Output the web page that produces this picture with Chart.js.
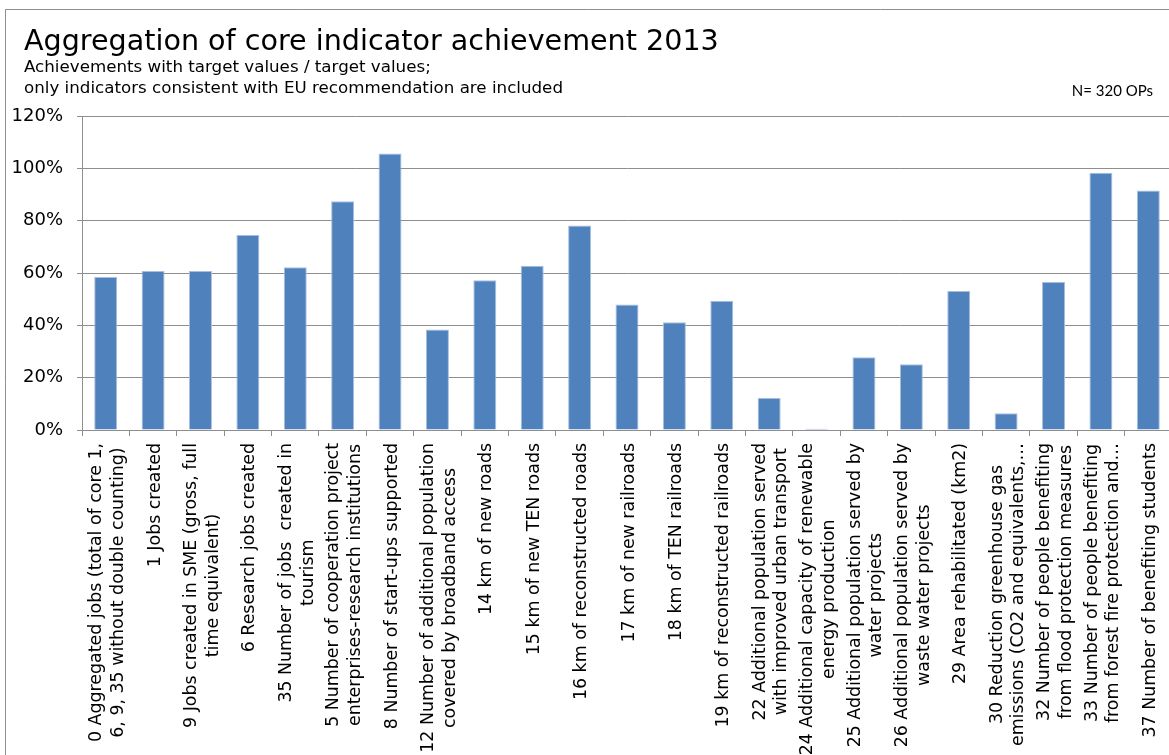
<!DOCTYPE html>
<html>
<head>
<meta charset="utf-8">
<title>Aggregation of core indicator achievement 2013</title>
<script src="https://cdn.jsdelivr.net/npm/chart.js@4"></script>
<style>
  html, body { margin: 0; padding: 0; background: #fff; overflow: hidden; }
  #wrap { position: relative; width: 1172px; height: 755px; }
</style>
</head>
<body>
<div id="wrap"><canvas id="myChart"></canvas></div>
<script>
// core indicators, each label split into the lines it is printed on
const categories = [
  ['0 Aggregated jobs (total of core 1,', '6, 9, 35 without double counting)'],
  ['1 Jobs created'],
  ['9 Jobs created in SME (gross, full', 'time equivalent)'],
  ['6 Research jobs created'],
  ['35 Number of jobs  created in', 'tourism'],
  ['5 Number of cooperation project', 'enterprises-research institutions'],
  ['8 Number of start-ups supported'],
  ['12 Number of additional population', 'covered by broadband access'],
  ['14 km of new roads'],
  ['15 km of new TEN roads'],
  ['16 km of reconstructed roads'],
  ['17 km of new railroads'],
  ['18 km of TEN railroads'],
  ['19 km of reconstructed railroads'],
  ['22 Additional population served', 'with improved urban transport'],
  ['24 Additional capacity of renewable', 'energy production'],
  ['25 Additional population served by', 'water projects'],
  ['26 Additional population served by', 'waste water projects'],
  ['29 Area rehabilitated (km2)'],
  ['30 Reduction greenhouse gas', 'emissions (CO2 and equivalents,\u2026'],
  ['32 Number of people benefiting', 'from flood protection measures'],
  ['33 Number of people benefiting', 'from forest fire protection and\u2026'],
  ['37 Number of benefiting students']
];

// achievement / target, in %
const achievement = [
  58.5, 60.8, 60.8, 74.5, 62.2, 87.4, 105.7, 38.4, 57.2, 62.8, 78.2, 48.0,
  41.2, 49.4, 12.2, 0.5, 27.8, 25.1, 53.1, 6.4, 56.6, 98.3, 91.5
];

const yMax = 120;
const yStep = 20;

const titleText = 'Aggregation of core indicator achievement 2013';
const subtitleLines = [
  'Achievements with target values / target values;',
  'only indicators consistent with EU recommendation are included'
];
const noteText = 'N= 320 OPs';

const axisGrey = '#8e8e8e';

// frame, headings and the rotated category labels
const decorations = {
  id: 'decorations',
  beforeDraw(chart) {
    const c = chart.ctx;
    c.save();
    c.fillStyle = '#fff';
    c.fillRect(0, 0, chart.width, chart.height);

    c.strokeStyle = axisGrey;
    c.lineWidth = 1;
    c.beginPath();
    c.moveTo(5.5, chart.height);
    c.lineTo(5.5, 9.5);
    c.lineTo(chart.width, 9.5);
    c.stroke();

    c.fillStyle = '#000';
    c.textAlign = 'left';
    c.textBaseline = 'alphabetic';
    c.font = '28.6px "DejaVu Sans"';
    c.fillText(titleText, 24, 50);
    c.font = '16.7px "DejaVu Sans"';
    c.fillText(subtitleLines[0], 24, 72);
    c.fillText(subtitleLines[1], 24, 93);

    c.textAlign = 'right';
    c.font = '15px Lato';
    c.fillText(noteText, 1153, 96);
    c.restore();
  },
  afterDraw(chart) {
    const c = chart.ctx;
    const x = chart.scales.x;
    const top = chart.chartArea.bottom + 13;
    c.save();
    c.font = '17.4px "DejaVu Sans"';
    c.fillStyle = '#000';
    c.textAlign = 'center';
    c.textBaseline = 'middle';
    categories.forEach((lines, i) => {
      const cx = x.getPixelForValue(i) + 2;
      const w = Math.max(...lines.map(l => c.measureText(l).width));
      lines.forEach((line, k) => {
        const lx = cx + (k - (lines.length - 1) / 2) * 21.5;
        c.save();
        c.translate(lx, top + w / 2);
        c.rotate(-Math.PI / 2);
        c.fillText(line, 0, 0);
        c.restore();
      });
    });
    c.restore();
  }
};

const ctx = document.getElementById('myChart');

new Chart(ctx, {
  type: 'bar',
  data: {
    labels: categories,
    datasets: [{
      data: achievement,
      backgroundColor: '#4F81BD',
      borderColor: '#A7BFDE',
      borderWidth: 1,
      categoryPercentage: 1,
      barPercentage: 0.485
    }]
  },
  options: {
    responsive: true,
    maintainAspectRatio: false,
    animation: false,
    layout: {
      padding: { top: 116, left: 0, right: 0, bottom: 0 }
    },
    plugins: {
      legend: { display: false },
      tooltip: { enabled: false }
    },
    scales: {
      x: {
        afterFit(scale) { scale.height = 325; },
        ticks: { display: false },
        grid: {
          offset: true,
          drawOnChartArea: false,
          drawTicks: true,
          tickLength: 6,
          color: axisGrey
        },
        border: { color: axisGrey, width: 1 }
      },
      y: {
        min: 0,
        max: yMax,
        afterFit(scale) { scale.width = 82; },
        ticks: {
          stepSize: yStep,
          padding: 14,
          color: '#000',
          font: { family: 'DejaVu Sans', size: 18 },
          callback: function(value) {
            return value + '%';
          }
        },
        grid: {
          color: axisGrey,
          lineWidth: 1,
          drawTicks: true,
          tickLength: 5
        },
        border: { color: axisGrey, width: 1 }
      }
    }
  },
  plugins: [decorations]
});
</script>
</body>
</html>
